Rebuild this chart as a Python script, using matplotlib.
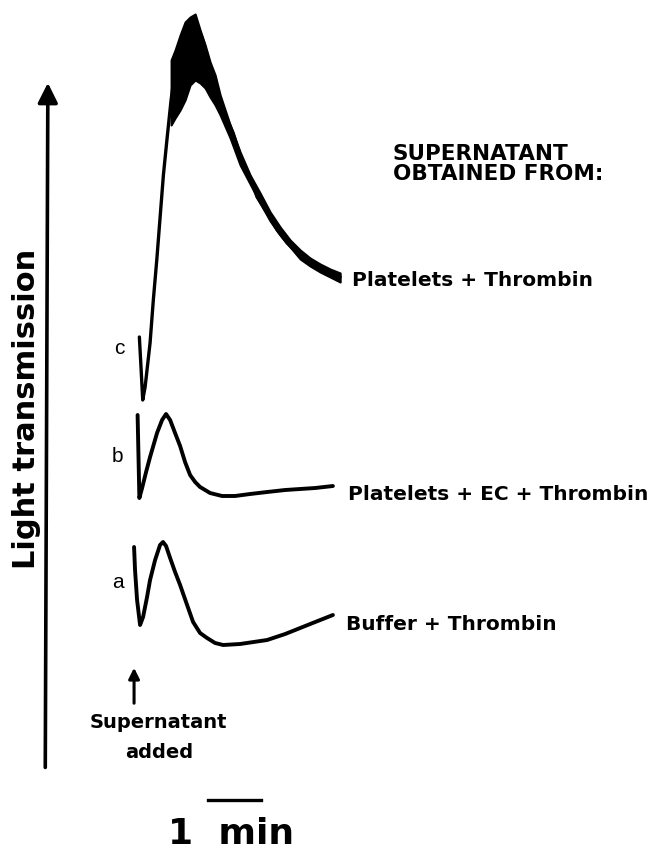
import numpy as np
import matplotlib.pyplot as plt

# time after supernatant addition (s) and change in light transmission (arb. units)
# trace a: Buffer + Thrombin
t_a = [0, 1.1, 3.4, 6.8, 10.2, 14.7, 18.1, 23.8, 29.4, 32.8, 36.2, 40.8, 46.4, 52.1,
       60.0, 66.8, 74.7, 82.6, 91.7, 100.8, 120, 150.6, 171, 188, 205, 225]
d_a = [0, -23, -53, -78, -70, -50, -33, -13, 2, 5, 1, -11, -25, -38,
       -58, -75, -86, -91, -96, -98, -97, -93, -87, -81, -75, -68]

# trace b: Platelets + EC + Thrombin
t_b = [4.0, 5.1, 6.0, 9.1, 13.6, 18.1, 26.0, 31.7, 36.2, 40.8, 46.4, 52.1, 57.7,
       63.4, 69.1, 74.7, 86.0, 99.6, 114.3, 131.3, 150.6, 171, 188, 205, 225]
d_b = [0, -45, -83, -73, -57, -42, -18, -5, 1, -5, -18, -31, -47,
       -60, -67, -72, -78, -81, -81, -79, -77, -75, -74, -73, -71]

# trace c: Platelets + Thrombin
t_c = [6.0, 7.9, 9.8, 12.5, 18.1, 21.8, 25.7, 29.4, 33.2, 37.4, 41.9, 46.4, 52.1,
       58.9, 65.7, 71.3, 77.0, 82.6, 89.4, 95.1, 100.8, 112.1, 123.4, 131.3, 139.2,
       150.6, 161.9, 173.2, 188, 199.2, 210.6, 221.9, 233.2]
d_c = [0, -31, -63, -50, -6, 37, 77, 119, 162, 199, 237, 267, 292,
       309, 315, 312, 299, 282, 262, 245, 227, 204, 172, 160, 140,
       124, 107, 94, 81, 74, 69, 65, 60]

# noisy band of trace c (upper / lower envelope)
t_band = [41.9, 46.4, 52.1, 57.7, 63.4, 69.1, 74.7, 80.4, 86.0, 91.7, 97.4,
          108.7, 120, 131.3, 142.6, 154, 165.3, 176.6, 188, 199.2, 210.6, 221.9, 233.2]
c_upper = [277, 287, 302, 315, 320, 323, 307, 292, 275, 262, 242,
           212, 185, 162, 144, 125, 110, 97, 87, 79, 73, 68, 64]
c_lower = [212, 219, 227, 237, 252, 257, 254, 249, 240, 232, 222,
           199, 172, 153, 134, 116, 102, 90, 78, 71, 65, 60, 55]

# vertical offsets of the three recordings
base_a, base_b, base_c = 305, 437, 515

trace_letters = ["a", "b", "c"]
trace_labels = ["Buffer + Thrombin", "Platelets + EC + Thrombin", "Platelets + Thrombin"]
header = "SUPERNATANT\nOBTAINED FROM:"
scale_start, scale_len = 84, 60  # 1 min bar

fig = plt.figure(figsize=(6.56, 8.52), dpi=100)
ax = fig.add_axes([0, 0, 1, 1])
ax.set_xlim(-151.7, 590.6)
ax.set_ylim(0, 852)
ax.axis("off")

lw = 2.8
ax.plot(t_a, np.array(d_a) + base_a, color="black", lw=lw, solid_capstyle="round")
ax.plot(t_b, np.array(d_b) + base_b, color="black", lw=lw, solid_capstyle="round")
ax.plot(t_c, np.array(d_c) + base_c, color="black", lw=2.4, solid_capstyle="round")
ax.fill_between(t_band, np.array(c_lower) + base_c, np.array(c_upper) + base_c,
                color="black", lw=1.5)

bold = dict(family="DejaVu Sans", weight="bold", color="black")
ends = [(t_a[-1], d_a[-1] + base_a, (13, -10)),
        (t_b[-1], d_b[-1] + base_b, (15, -9)),
        (t_c[-1], d_c[-1] + base_c, (12, -4))]
for (x, y, off), lab in zip(ends, trace_labels):
    ax.annotate(lab, xy=(x, y), xytext=off, textcoords="offset pixels",
                ha="left", va="center", fontsize=14.5, **bold)

starts = [(t_a[0], d_a[3] / 2 + base_a, (-16, 3)),
          (t_b[0], d_b[2] / 2 + base_b, (-20, 0)),
          (t_c[0], d_c[0] + base_c, (-20, -11))]
for (x, y, off), let in zip(starts, trace_letters):
    ax.annotate(let, xy=(x, y), xytext=off, textcoords="offset pixels",
                ha="center", va="center", fontsize=15, family="Liberation Sans")

ax.text(0.599, 0.8075, header, transform=ax.transAxes, ha="left", va="center",
        fontsize=15.5, linespacing=1.05, **bold)

# light transmission axis arrow
ax.annotate("", xy=(0.073, 0.906), xytext=(0.069, 0.096), xycoords="axes fraction",
            arrowprops=dict(arrowstyle="-|>", lw=2.6, color="black", mutation_scale=30))
ax.text(0.041, 0.52, "Light transmission", transform=ax.transAxes, rotation=90,
        ha="center", va="center", fontsize=22, **bold)

# supernatant added marker
ax.annotate("", xy=(0, 852 - 665), xytext=(0, 852 - 706),
            arrowprops=dict(arrowstyle="-|>", lw=2.2, color="black", mutation_scale=16))
ax.text(28, 852 - 722, "Supernatant", ha="center", va="center", fontsize=14, **bold)
ax.text(28, 852 - 752, "added", ha="center", va="center", fontsize=14, **bold)

# time scale bar
ax.plot([scale_start, scale_start + scale_len], [852 - 800, 852 - 800], color="black", lw=2.4)
ax.text(scale_start + scale_len / 2 - 4, 852 - 834, "1  min", ha="center", va="center",
        fontsize=26, **bold)

fig.savefig("out.png", dpi=100)
